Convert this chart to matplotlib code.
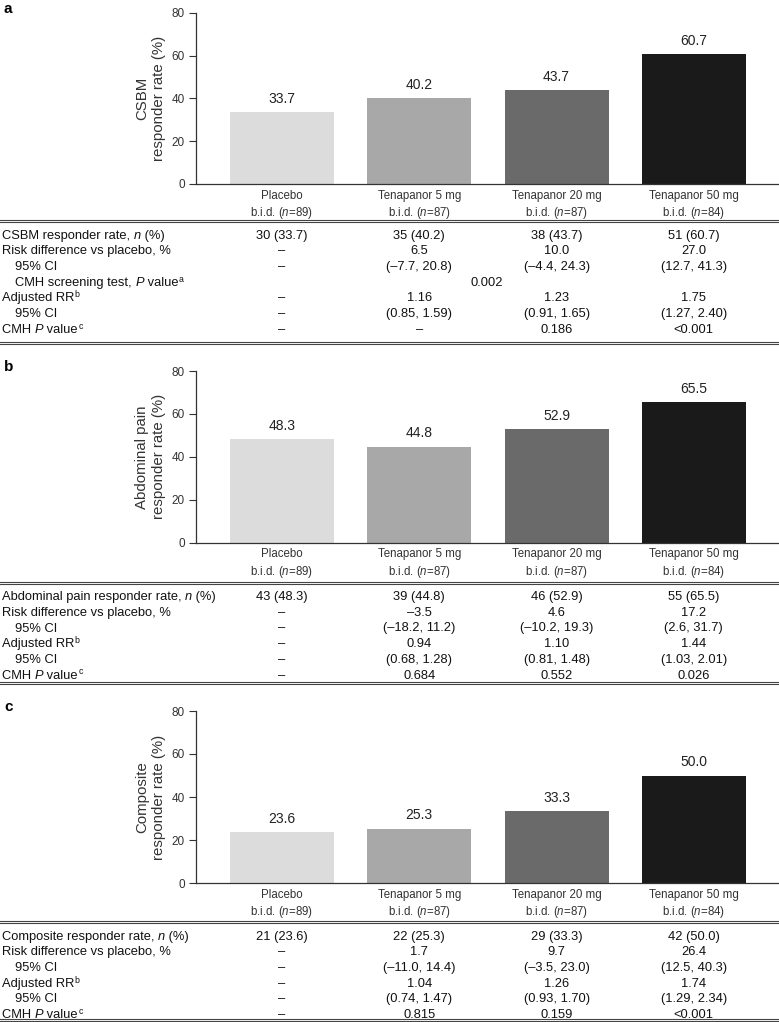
import numpy as np
import matplotlib
matplotlib.use('Agg')
import matplotlib.pyplot as plt
from matplotlib import font_manager

# narrow font if available, else regular
names = set(f.name for f in font_manager.fontManager.ttflist)
narrow = 'Liberation Sans Narrow' if 'Liberation Sans Narrow' in names else 'Liberation Sans'

plt.rcParams['font.family'] = ['Liberation Sans', 'DejaVu Sans']
plt.rcParams['mathtext.fontset'] = 'custom'
plt.rcParams['mathtext.rm'] = 'Liberation Sans'
plt.rcParams['mathtext.it'] = 'Liberation Sans:italic'
plt.rcParams['mathtext.bf'] = 'Liberation Sans:bold'

groups = ['Placebo', 'Tenapanor 5 mg', 'Tenapanor 20 mg', 'Tenapanor 50 mg']
group_n = [89, 87, 87, 84]
bar_colors = ['#dcdcdc', '#a8a8a8', '#6a6a6a', '#1a1a1a']

csbm = [33.7, 40.2, 43.7, 60.7]
pain = [48.3, 44.8, 52.9, 65.5]
composite = [23.6, 25.3, 33.3, 50.0]

# (label, superscript, cells); _x_ marks italic, leading spaces mean indented
csbm_table = [
    ('CSBM responder rate, _n_ (%)', '', ['30 (33.7)', '35 (40.2)', '38 (43.7)', '51 (60.7)']),
    ('Risk difference vs placebo, %', '', ['–', '6.5', '10.0', '27.0']),
    ('   95% CI', '', ['–', '(–7.7, 20.8)', '(–4.4, 24.3)', '(12.7, 41.3)']),
    ('   CMH screening test, _P_ value', 'a', '0.002'),
    ('Adjusted RR', 'b', ['–', '1.16', '1.23', '1.75']),
    ('   95% CI', '', ['–', '(0.85, 1.59)', '(0.91, 1.65)', '(1.27, 2.40)']),
    ('CMH _P_ value', 'c', ['–', '–', '0.186', '<0.001']),
]
pain_table = [
    ('Abdominal pain responder rate, _n_ (%)', '', ['43 (48.3)', '39 (44.8)', '46 (52.9)', '55 (65.5)']),
    ('Risk difference vs placebo, %', '', ['–', '–3.5', '4.6', '17.2']),
    ('   95% CI', '', ['–', '(–18.2, 11.2)', '(–10.2, 19.3)', '(2.6, 31.7)']),
    ('Adjusted RR', 'b', ['–', '0.94', '1.10', '1.44']),
    ('   95% CI', '', ['–', '(0.68, 1.28)', '(0.81, 1.48)', '(1.03, 2.01)']),
    ('CMH _P_ value', 'c', ['–', '0.684', '0.552', '0.026']),
]
comp_table = [
    ('Composite responder rate, _n_ (%)', '', ['21 (23.6)', '22 (25.3)', '29 (33.3)', '42 (50.0)']),
    ('Risk difference vs placebo, %', '', ['–', '1.7', '9.7', '26.4']),
    ('   95% CI', '', ['–', '(–11.0, 14.4)', '(–3.5, 23.0)', '(12.5, 40.3)']),
    ('Adjusted RR', 'b', ['–', '1.04', '1.26', '1.74']),
    ('   95% CI', '', ['–', '(0.74, 1.47)', '(0.93, 1.70)', '(1.29, 2.34)']),
    ('CMH _P_ value', 'c', ['–', '0.815', '0.159', '<0.001']),
]

W, H = 779, 1022
fig = plt.figure(figsize=(W / 100, H / 100), dpi=100)
renderer = fig.canvas.get_renderer()

def fy(y):
    return 1 - y / H

# panel letter, data, ylabel, table, axis top/bottom px, table top/bottom px
panels = [
    ('a', csbm, 'CSBM\nresponder rate (%)', csbm_table, 12.7, 184, 221, 343),
    ('b', pain, 'Abdominal pain\nresponder rate (%)', pain_table, 371, 542.7, 582.5, 683),
    ('c', composite, 'Composite\nresponder rate (%)', comp_table, 711, 883, 922, 1019.5),
]

left, right = 196, 779
x = np.arange(len(groups))
dark = '#333333'
tcol = '#111111'
tsize = 9.3

for letter, vals, ylab, table, top, bot, ttop, tbot in panels:
    ax = fig.add_axes([left / W, fy(bot), (right - left) / W, (bot - top) / H])
    ax.bar(x, vals, width=0.757, color=bar_colors, edgecolor='none')
    ax.set_xlim(-0.626, 3.62)
    ax.set_ylim(0, 80)
    ax.set_yticks([0, 20, 40, 60, 80])
    ax.tick_params(axis='y', length=5, width=0.8, color=dark, labelsize=8.5, labelcolor=dark, pad=3)
    ax.tick_params(axis='x', length=0, pad=4)
    ax.set_xticks(x)
    ax.set_xticklabels(['%s\nb.i.d. ($\\it{n}$=%d)' % (g, n) for g, n in zip(groups, group_n)],
                       fontsize=8.3, family=narrow, color=dark, linespacing=1.3)
    for s in ['top', 'right']:
        ax.spines[s].set_visible(False)
    for s in ['left', 'bottom']:
        ax.spines[s].set_color(dark)
        ax.spines[s].set_linewidth(0.9)
    ax.set_ylabel(ylab, fontsize=10.8, color=dark, linespacing=1.25)
    ax.yaxis.set_label_coords(-0.052, 0.5)
    for i, v in enumerate(vals):
        ax.annotate('%.1f' % v, (i, v), xytext=(0, 4.5), textcoords='offset points',
                    ha='center', va='bottom', fontsize=10, color='#222222')

    fig.text(4 / W, fy(top - 4), letter, fontsize=11, fontweight='bold', va='center', ha='left')

    # table rules (double lines)
    for yy in (ttop - 1, ttop + 1.2, tbot - 1, tbot + 1.2):
        fig.add_artist(plt.Line2D([0, 1], [fy(yy), fy(yy)], color='#444444', lw=0.8))

    for r, (lab, sup, cells) in enumerate(table):
        ry = ttop + 14 + r * 15.7
        base = fy(ry + 3.6)
        xpos = 15 if lab.startswith('   ') else 2
        # label pieces, alternating normal / italic
        for k, piece in enumerate(lab.strip().split('_')):
            if not piece:
                continue
            t = fig.text(xpos / W, base, piece, fontsize=tsize, family=narrow,
                         style='italic' if k % 2 else 'normal',
                         va='baseline', ha='left', color=tcol)
            xpos = t.get_window_extent(renderer).x1
        if sup:
            fig.text((xpos + 0.5) / W, fy(ry - 0.5), sup, fontsize=6.3, family=narrow,
                     va='baseline', ha='left', color=tcol)
        if isinstance(cells, str):
            fig.text(487 / W, base, cells, fontsize=tsize, family=narrow,
                     va='baseline', ha='center', color=tcol)
        else:
            for i, c in enumerate(cells):
                xc = ax.transData.transform((i, 0))[0] / W
                fig.text(xc, base, c, fontsize=tsize, family=narrow,
                         va='baseline', ha='center', color=tcol)

fig.savefig('out.png', dpi=100)
